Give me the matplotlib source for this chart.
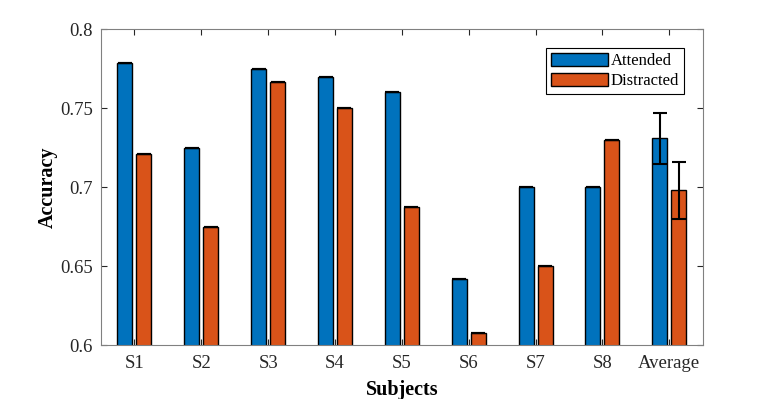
import numpy as np
import matplotlib.pyplot as plt

# accuracy per subject
subjects = ["S1", "S2", "S3", "S4", "S5", "S6", "S7", "S8", "Average"]
attended = [0.7785, 0.725, 0.775, 0.770, 0.760, 0.6417, 0.700, 0.700, 0.731]
distracted = [0.721, 0.675, 0.7667, 0.750, 0.6875, 0.608, 0.650, 0.730, 0.698]
err_attended = [0, 0, 0, 0, 0, 0, 0, 0, 0.016]
err_distracted = [0, 0, 0, 0, 0, 0, 0, 0, 0.0178]

plt.rcParams["font.family"] = ["Liberation Serif", "DejaVu Serif"]

fig = plt.figure(figsize=(7.76, 3.99), dpi=100)
ax = fig.add_axes([0.1302, 0.1346, 0.7753, 0.7920])

x = np.arange(1, len(subjects) + 1)
w = 0.224
off = 0.142
ax.bar(x - off, attended, w, color="#0072BD", edgecolor="black", linewidth=1.0, label="Attended", zorder=2)
ax.bar(x + off, distracted, w, color="#D95319", edgecolor="black", linewidth=1.0, label="Distracted", zorder=2)
ax.errorbar(x - off, attended, yerr=err_attended, fmt="none", ecolor="black", elinewidth=1.5, capsize=5, capthick=1.5, zorder=3)
ax.errorbar(x + off, distracted, yerr=err_distracted, fmt="none", ecolor="black", elinewidth=1.5, capsize=5, capthick=1.5, zorder=3)

ax.set_xlim(0.5, 9.5)
ax.set_ylim(0.6, 0.8)
ax.set_xticks(x)
ax.set_xticklabels(subjects)
ax.set_yticks([0.6, 0.65, 0.7, 0.75, 0.8])
ax.set_yticklabels(["0.6", "0.65", "0.7", "0.75", "0.8"])
ax.tick_params(direction="in", top=True, right=True, length=4, labelsize=13.5, colors="#262626")
ax.tick_params(axis="x", pad=7)
ax.tick_params(axis="y", pad=6)
for s in ax.spines.values():
    s.set_color("#808080")
    s.set_linewidth(0.8)

ax.set_xlabel("Subjects", fontsize=14.5, fontweight="bold", labelpad=6)
ax.set_ylabel("Accuracy", fontsize=14.5, fontweight="bold", labelpad=1.5)

leg = ax.legend(loc="upper right", fontsize=12, handlelength=3.4, handleheight=0.9,
                borderaxespad=1.1, fancybox=False, edgecolor="black", framealpha=1,
                borderpad=0.3, labelspacing=0.2, handletextpad=0.2)
leg.get_frame().set_linewidth(0.8)

fig.savefig("out.png", dpi=100)
